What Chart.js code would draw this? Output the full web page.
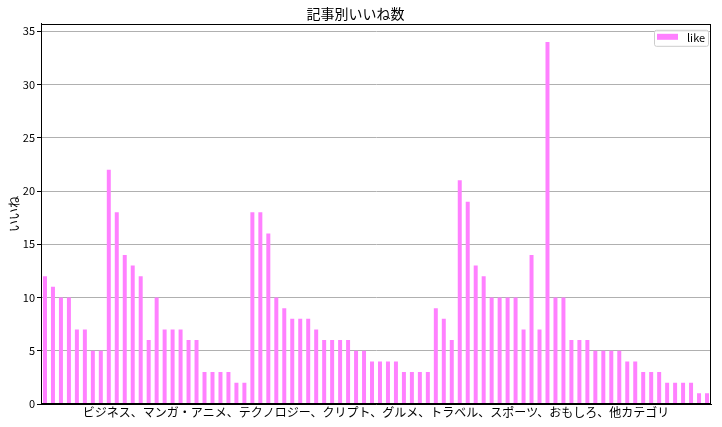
<!DOCTYPE html>
<html>
<head>
<meta charset="utf-8">
<script src="https://cdn.jsdelivr.net/npm/chart.js@4"></script>
<style>
  html, body { margin: 0; padding: 0; background: #fff; }
  #wrap { width: 722px; height: 427px; }
</style>
</head>
<body>
<div id="wrap"><canvas id="likeChart"></canvas></div>
<script>
// いいね数 (one bar per article)
const likes = [
    12, 11, 10, 10, 7, 7, 5, 5, 22, 18, 14, 13, 12, 6, 10, 7, 7, 7, 6, 6,
    3, 3, 3, 3, 2, 2, 18, 18, 16, 10, 9, 8, 8, 8, 7, 6, 6, 6, 6, 5,
    5, 4, 4, 4, 4, 3, 3, 3, 3, 9, 8, 6, 21, 19, 13, 12, 10, 10, 10, 10,
    7, 14, 7, 34, 10, 10, 6, 6, 6, 5, 5, 5, 5, 4, 4, 3, 3, 3, 2, 2,
    2, 2, 1, 1
];
const articles = likes.map((v, i) => String(i));
const yTicks = [0, 5, 10, 15, 20, 25, 30, 35];
const xLabel = 'ビジネス、マンガ・アニメ、テクノロジー、クリプト、グルメ、トラベル、スポーツ、おもしろ、他カテゴリ';

const FONT = '"Noto Sans CJK JP", "DejaVu Sans", sans-serif';
const barColor = '#ff80ff';

// black frame round the plot area + legend box inside, top right
const framePlugin = {
    id: 'frame',
    afterDraw(chart) {
        const { ctx, chartArea: a } = chart;
        ctx.save();
        ctx.strokeStyle = '#000';
        ctx.lineWidth = 1;
        ctx.strokeRect(Math.round(a.left) + 0.5, Math.round(a.top) + 0.5,
            Math.round(a.right - a.left) - 1, Math.round(a.bottom - a.top) - 1);

        const ds = chart.data.datasets[0];
        const w = 54, h = 16;
        const x = a.right - 3 - w, y = a.top + 6;
        ctx.fillStyle = 'rgba(255,255,255,0.8)';
        ctx.strokeStyle = '#cccccc';
        ctx.beginPath();
        ctx.roundRect(x + 0.5, y + 0.5, w, h, 2);
        ctx.fill();
        ctx.stroke();
        ctx.fillStyle = ds.backgroundColor;
        ctx.fillRect(x + 3, y + 4, 21, 6);
        ctx.fillStyle = '#000';
        ctx.font = '11px ' + FONT;
        ctx.textBaseline = 'middle';
        ctx.fillText(ds.label, x + 33, y + h / 2 + 0.5);
        ctx.restore();
    }
};

const ctx = document.getElementById('likeChart').getContext('2d');
const likeChart = new Chart(ctx, {
    type: 'bar',
    data: {
        labels: articles,
        datasets: [{
            label: 'like',
            data: likes,
            backgroundColor: barColor,
            borderWidth: 0,
            categoryPercentage: 1.0,
            barPercentage: 0.5
        }]
    },
    options: {
        responsive: true,
        maintainAspectRatio: false,
        animation: false,
        layout: {
            padding: { left: 0, right: 11, top: 0, bottom: 0 }
        },
        plugins: {
            legend: { display: false },
            tooltip: { enabled: false },
            title: {
                display: true,
                text: '記事別いいね数',
                color: '#000',
                font: { family: FONT, size: 14, weight: 'normal' },
                padding: { top: 5, bottom: 2 }
            }
        },
        scales: {
            x: {
                grid: { display: false },
                border: { display: true, color: '#000' },
                ticks: { display: false },
                title: {
                    display: true,
                    text: xLabel,
                    color: '#000',
                    font: { family: FONT, size: 12 },
                    padding: { top: 0, bottom: 7 }
                },
                afterFit(scale) { scale.height = 23; }
            },
            y: {
                min: 0,
                max: 35.7,
                afterBuildTicks(scale) {
                    scale.ticks = yTicks.map(v => ({ value: v }));
                },
                ticks: {
                    color: '#000',
                    font: { family: FONT, size: 11 },
                    padding: 2
                },
                grid: {
                    color: '#b0b0b0',
                    tickColor: '#000',
                    tickLength: 4,
                    lineWidth: 1
                },
                border: { display: true, color: '#000' },
                title: {
                    display: true,
                    text: 'いいね',
                    color: '#000',
                    font: { family: FONT, size: 12 },
                    padding: { top: 7, bottom: 0 }
                },
                afterFit(scale) { scale.width = 41; }
            }
        }
    },
    plugins: [framePlugin]
});
</script>
</body>
</html>
